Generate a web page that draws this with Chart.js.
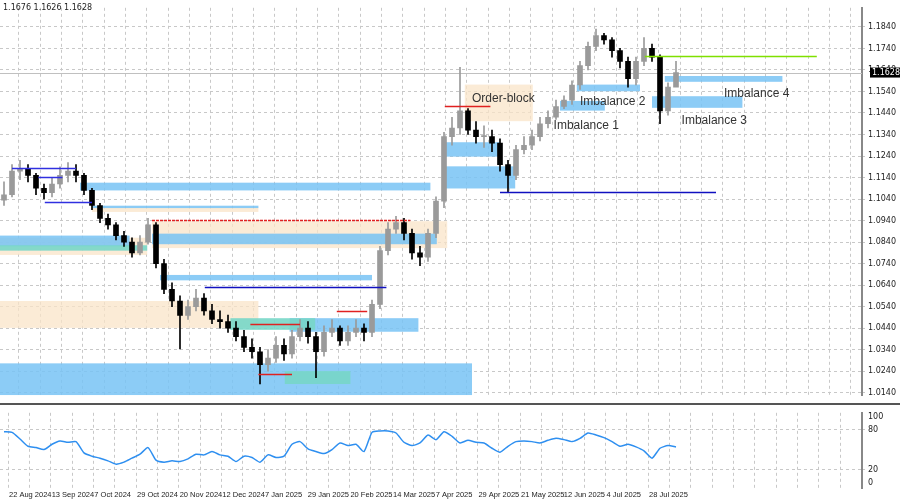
<!DOCTYPE html>
<html lang="en">
<head>
<meta charset="UTF-8">
<title>EURUSD Daily</title>
<script src="https://cdn.jsdelivr.net/npm/chart.js"></script>
<style>
  body { margin: 0; background: #fff; font-family: "Liberation Sans", Arial, sans-serif; }
  #wrap { width: 900px; height: 500px; position: relative; }
  #mainBox { position: absolute; left: 0; top: 0; width: 900px; height: 403px; }
  #sep { position: absolute; left: 0; top: 403px; width: 900px; height: 2px; background: #555; }
  #oscBox { position: absolute; left: 0; top: 405px; width: 900px; height: 95px; }
  #info { position: absolute; left: 3px; top: 3px; font: 8px "DejaVu Sans", sans-serif; color: #222; }
</style>
</head>
<body>
<div id="wrap">
  <div id="mainBox"><canvas id="mainChart"></canvas></div>
  <div id="sep"></div>
  <div id="oscBox"><canvas id="oscChart"></canvas></div>
  <div id="info">1.1676 1.1626 1.1628</div>
</div>
<script>
// one candle = ~3 trading days
const closes = [1.1060,1.1170,1.1180,1.1150,1.1090,1.1070,1.1110,1.1150,1.1170,1.1150,
  1.1080,1.1010,1.0950,1.0920,1.0870,1.0840,1.0790,1.0840,1.0920,1.0740,
  1.0620,1.0566,1.0499,1.0540,1.0580,1.0520,1.0480,1.0470,1.0440,1.0400,
  1.0350,1.0330,1.0270,1.0300,1.0360,1.0320,1.0400,1.0440,1.0400,1.0330,
  1.0420,1.0440,1.0380,1.0420,1.0440,1.0420,1.0550,1.0800,1.0900,1.0930,
  1.0880,1.0790,1.0770,1.0880,1.1030,1.1330,1.1370,1.1450,1.1360,1.1330,
  1.1330,1.1300,1.1200,1.1150,1.1270,1.1290,1.1330,1.1390,1.1420,1.1470,
  1.1500,1.1570,1.1660,1.1750,1.1800,1.1780,1.1730,1.1680,1.1600,1.1680,
  1.1740,1.1700,1.1450,1.1560,1.1628];
const highs = [1.1120,1.1200,1.1220,1.1200,1.1160,1.1110,1.1140,1.1190,1.1210,1.1200,
  1.1160,1.1090,1.1020,1.0970,1.0930,1.0890,1.0860,1.0870,1.0950,1.0930,
  1.0760,1.0650,1.0590,1.0570,1.0620,1.0600,1.0550,1.0520,1.0500,1.0470,
  1.0430,1.0390,1.0350,1.0340,1.0400,1.0390,1.0430,1.0480,1.0470,1.0420,
  1.0450,1.0480,1.0450,1.0450,1.0480,1.0460,1.0570,1.0820,1.0930,1.0960,
  1.0950,1.0900,1.0820,1.0900,1.1050,1.1350,1.1420,1.1652,1.1460,1.1400,
  1.1380,1.1360,1.1320,1.1220,1.1290,1.1330,1.1360,1.1420,1.1450,1.1500,
  1.1520,1.1590,1.1680,1.1770,1.1830,1.1810,1.1790,1.1740,1.1700,1.1700,
  1.1790,1.1760,1.1710,1.1580,1.1680];
const lows = [1.1010,1.1050,1.1130,1.1120,1.1060,1.1040,1.1050,1.1090,1.1120,1.1120,
  1.1060,1.0990,1.0930,1.0900,1.0850,1.0820,1.0770,1.0780,1.0830,1.0720,
  1.0600,1.0540,1.0343,1.0480,1.0520,1.0500,1.0460,1.0440,1.0420,1.0380,
  1.0330,1.0300,1.0180,1.0240,1.0280,1.0290,1.0300,1.0380,1.0370,1.0210,
  1.0310,1.0400,1.0360,1.0360,1.0400,1.0380,1.0400,1.0530,1.0780,1.0880,
  1.0850,1.0760,1.0730,1.0750,1.0860,1.1000,1.1290,1.1340,1.1340,1.1300,
  1.1280,1.1260,1.1170,1.1070,1.1130,1.1250,1.1270,1.1310,1.1370,1.1410,
  1.1460,1.1480,1.1550,1.1640,1.1730,1.1760,1.1700,1.1650,1.1560,1.1570,
  1.1660,1.1680,1.1390,1.1430,1.1600];
const oscValues = [77,76,66,55,53,50,58,63,61,62,45,40,37,33,28,31,37,43,53,34,
  31,33,32,36,43,42,47,42,40,32,40,38,31,42,38,40,58,62,51,47,
  44,50,60,56,58,47,76,78,78,75,61,56,60,72,65,77,70,60,64,61,
  60,52,46,55,62,63,62,60,64,67,65,62,67,75,72,68,62,55,58,54,
  48,37,52,56,54];
const dateLabels = ['22 Aug 2024','13 Sep 2024','7 Oct 2024','29 Oct 2024','20 Nov 2024','12 Dec 2024',
  '7 Jan 2025','29 Jan 2025','20 Feb 2025','14 Mar 2025','7 Apr 2025','29 Apr 2025','21 May 2025',
  '12 Jun 2025','4 Jul 2025','28 Jul 2025'];
const priceTicks = [1.0140,1.0240,1.0340,1.0440,1.0540,1.0640,1.0740,1.0840,1.0940,1.1040,
  1.1140,1.1240,1.1340,1.1440,1.1540,1.1640,1.1740,1.1840];
const oscTicks = [0,20,80,100];
const lastPrice = 1.1628;

// zones: [fromBar, toBar, top, bottom, kind]
const zones = [
  [-1, 31.8, 1.0566, 1.0441, 'beige'],
  [18.5, 55.4, 1.0937, 1.0812, 'beige'],
  [-1, 17.9, 1.0860, 1.0780, 'beige'],
  [11, 31.8, 1.1000, 1.0980, 'beige'],
  [57.6, 66.1, 1.1572, 1.1402, 'beige'],
  [9.5, 53.3, 1.1116, 1.1080, 'blue'],
  [11, 31.8, 1.1009, 1.0998, 'blue'],
  [-1, 15.7, 1.0870, 1.0820, 'blue'],
  [-1, 17.9, 1.0825, 1.0800, 'teal'],
  [18.5, 54.1, 1.0879, 1.0830, 'blue'],
  [19.5, 46, 1.0687, 1.0662, 'blue'],
  [35.7, 51.8, 1.0486, 1.0423, 'blue'],
  [28.3, 38.9, 1.0486, 1.0432, 'teal'],
  [-1, 58.5, 1.0276, 1.0128, 'blue'],
  [35.1, 43.3, 1.0240, 1.0180, 'teal'],
  [55.1, 62, 1.1304, 1.1237, 'blue'],
  [55.1, 63.9, 1.1192, 1.1089, 'blue'],
  [69.5, 75.1, 1.1496, 1.1451, 'blue'],
  [71.6, 79.5, 1.1572, 1.1541, 'blue'],
  [81, 92.3, 1.1518, 1.1464, 'blue'],
  [82.6, 97.3, 1.1612, 1.1585, 'blue']
];
// levels: [fromBar, toBar, price, colour, dashed]
const levels = [
  [80.1, 101.6, 1.1706, '#7fe000', false],
  [62, 89, 1.1071, '#1010c0', false],
  [25.1, 47.8, 1.0633, '#1010c0', false],
  [18.5, 50.8, 1.0941, '#e02020', true],
  [55.1, 60.8, 1.1473, '#e02020', false],
  [41.6, 45.4, 1.0521, '#e02020', false],
  [30.8, 37, 1.0459, '#e02020', false],
  [31.8, 36, 1.0228, '#e02020', false],
  [1, 9, 1.1183, '#3030e0', false],
  [4.3, 7.3, 1.1143, '#3030e0', false],
  [5.1, 11, 1.1026, '#3030e0', false]
];
const notes = [
  [58.5, 1.1505, 'Order-block'],
  [68.7, 1.1380, 'Imbalance 1'],
  [72, 1.1492, 'Imbalance 2'],
  [84.7, 1.1402, 'Imbalance 3'],
  [90, 1.1531, 'Imbalance 4']
];

const barIdx = closes.map((c, i) => i);
const opens = closes.map((c, i) => i === 0 ? 1.1035 : closes[i - 1]);
const candleColors = closes.map((c, i) => c >= opens[i] ? '#9a9a9a' : '#000000');
const xMin = -0.5, xMax = 107.25;
const gridIdx = [];
for (let k = 0; k < 41; k++) gridIdx.push(0.5 + k * 2.667);

const zoneColor = { beige: 'rgba(250,228,200,0.75)', blue: 'rgba(120,195,245,0.85)', teal: 'rgba(120,215,200,0.9)' };

const overlay = {
  id: 'overlay',
  beforeDatasetsDraw(chart) {
    const { ctx, scales: { x, y }, chartArea: a } = chart;
    ctx.save();
    ctx.beginPath(); ctx.rect(a.left, a.top, a.right - a.left, a.bottom - a.top); ctx.clip();
    zones.forEach(z => {
      ctx.fillStyle = zoneColor[z[4]];
      const x0 = x.getPixelForValue(z[0]), x1 = x.getPixelForValue(z[1]);
      const y0 = y.getPixelForValue(z[2]), y1 = y.getPixelForValue(z[3]);
      ctx.fillRect(x0, y0, x1 - x0, y1 - y0);
    });
    ctx.strokeStyle = '#c0c0c0'; ctx.lineWidth = 1;
    const ly = Math.round(y.getPixelForValue(lastPrice)) + 0.5;
    ctx.beginPath(); ctx.moveTo(a.left, ly); ctx.lineTo(a.right, ly); ctx.stroke();
    ctx.restore();
  },
  afterDatasetsDraw(chart) {
    const { ctx, scales: { x, y }, chartArea: a } = chart;
    ctx.save();
    levels.forEach(l => {
      ctx.strokeStyle = l[3]; ctx.lineWidth = 1.5;
      ctx.setLineDash(l[4] ? [3, 1] : []);
      const py = Math.round(y.getPixelForValue(l[2])) + 0.5;
      ctx.beginPath(); ctx.moveTo(x.getPixelForValue(l[0]), py); ctx.lineTo(x.getPixelForValue(l[1]), py); ctx.stroke();
    });
    ctx.setLineDash([]);
    ctx.fillStyle = '#333'; ctx.font = '12px "Liberation Sans", Arial, sans-serif';
    ctx.textBaseline = 'middle';
    notes.forEach(n => ctx.fillText(n[2], x.getPixelForValue(n[0]), y.getPixelForValue(n[1])));
    // current price tag
    const py = y.getPixelForValue(lastPrice);
    ctx.fillStyle = '#000'; ctx.fillRect(a.right + 8, py - 5, 30, 10);
    ctx.fillStyle = '#fff'; ctx.font = '8px "DejaVu Sans", sans-serif';
    ctx.fillText(lastPrice.toFixed(4), a.right + 10, py);
    ctx.restore();
  }
};

const dateAxis = {
  id: 'dateAxis',
  afterDraw(chart) {
    const { ctx, scales: { x }, chartArea: a } = chart;
    ctx.save();
    ctx.fillStyle = '#222'; ctx.font = '7.5px "Liberation Sans", Arial, sans-serif';
    ctx.textBaseline = 'top';
    dateLabels.forEach((d, i) => ctx.fillText(d, x.getPixelForValue(gridIdx[i * 2]) + 1, a.bottom + 3));
    ctx.restore();
  }
};

const gridOpts = { color: '#c8c8c8', drawTicks: false };
const dashBorder = { display: false, dash: [3, 3] };

new Chart(document.getElementById('mainChart'), {
  type: 'bar',
  data: {
    datasets: [
      { data: barIdx.map(i => ({ x: i, y: [lows[i], highs[i]] })), backgroundColor: candleColors,
        barThickness: 1, grouped: false },
      { data: barIdx.map(i => ({ x: i, y: [opens[i], closes[i]] })), backgroundColor: candleColors,
        barThickness: 5, grouped: false, minBarLength: 1 }
    ]
  },
  options: {
    responsive: true, maintainAspectRatio: false, animation: false,
    layout: { padding: 0 },
    plugins: { legend: { display: false }, tooltip: { enabled: false } },
    scales: {
      x: { type: 'linear', min: xMin, max: xMax, offset: false,
        afterBuildTicks: s => { s.ticks = gridIdx.map(v => ({ value: v })); },
        ticks: { display: false }, grid: gridOpts, border: dashBorder },
      y: { position: 'right', min: 1.0128, max: 1.1929,
        afterBuildTicks: s => { s.ticks = priceTicks.map(v => ({ value: v })); },
        afterFit: s => { s.width = 38; },
        ticks: { font: { size: 8, family: 'DejaVu Sans' }, color: '#222', padding: 3,
          callback: v => v.toFixed(4) },
        grid: { color: '#c8c8c8', drawTicks: true, tickLength: 3 },
        border: { color: '#888', width: 2, dash: [3, 3] } }
    }
  },
  plugins: [overlay]
});

new Chart(document.getElementById('oscChart'), {
  type: 'line',
  data: {
    datasets: [{ data: barIdx.map(i => ({ x: i, y: oscValues[i] })), borderColor: '#2e8ff0',
      borderWidth: 1.5, pointRadius: 0, tension: 0.2 }]
  },
  options: {
    responsive: true, maintainAspectRatio: false, animation: false,
    layout: { padding: { top: 1, bottom: 12 } },
    plugins: { legend: { display: false }, tooltip: { enabled: false } },
    scales: {
      x: { type: 'linear', min: xMin, max: xMax,
        afterBuildTicks: s => { s.ticks = gridIdx.map(v => ({ value: v })); },
        ticks: { display: false },
        grid: { color: '#c8c8c8', drawTicks: false }, border: dashBorder },
      y: { position: 'right', min: -8, max: 105.5,
        afterBuildTicks: s => { s.ticks = oscTicks.map(v => ({ value: v })); },
        afterFit: s => { s.width = 38; },
        ticks: { font: { size: 8, family: 'DejaVu Sans' }, color: '#222', padding: 3 },
        grid: { color: ctx => (ctx.tick && (ctx.tick.value === 20 || ctx.tick.value === 80)) ? '#c8c8c8' : 'rgba(0,0,0,0)',
          tickLength: 3 },
        border: { color: '#888', width: 2, dash: [3, 3] } }
    }
  },
  plugins: [dateAxis]
});
</script>
</body>
</html>
